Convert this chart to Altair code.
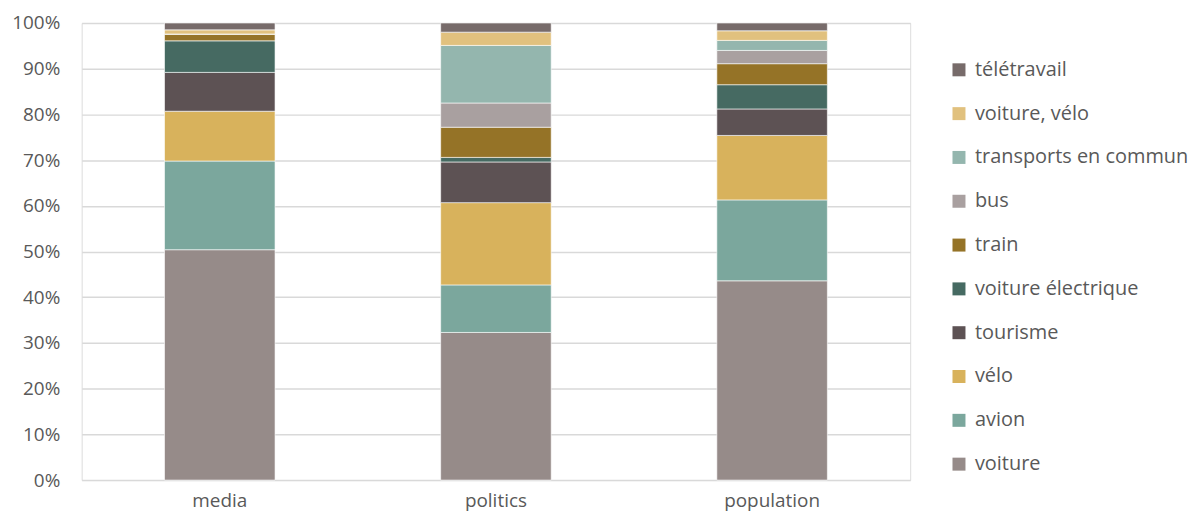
import altair as alt
import pandas as pd

groups = ["media", "politics", "population"]
modes = ["voiture", "avion", "vélo", "tourisme", "voiture électrique",
         "train", "bus", "transports en commun", "voiture, vélo", "télétravail"]
colors = ["#968B89", "#7BA79D", "#D8B25C", "#5D5254", "#466A62",
          "#957327", "#A9A0A0", "#94B6AE", "#E1C17E", "#776B6A"]
media = [50.4, 19.4, 10.9, 8.5, 6.9, 1.5, 0.0, 0.0, 0.9, 1.5]
politics = [32.3, 10.4, 18.0, 8.9, 1.0, 6.6, 5.3, 12.6, 2.9, 2.0]
population = [43.6, 17.7, 14.1, 5.8, 5.3, 4.6, 2.9, 2.2, 2.1, 1.7]

rows = []
for g, vals in zip(groups, [media, politics, population]):
    for i, (m, v) in enumerate(zip(modes, vals)):
        rows.append({"group": g, "mode": m, "value": v, "order": i})
df = pd.DataFrame(rows)

FONT = "Open Sans"
chart = alt.Chart(df).mark_bar(size=111, stroke="white", strokeWidth=0.6).encode(
    x=alt.X("group:N", sort=groups, title=None,
            scale=alt.Scale(paddingInner=0, paddingOuter=0),
            axis=alt.Axis(labelAngle=0, ticks=False, domain=False,
                          labelFontSize=19, labelColor="#595959",
                          labelFont=FONT, labelPadding=12)),
    y=alt.Y("value:Q", stack="normalize", title=None,
            scale=alt.Scale(domain=[0, 1]),
            axis=alt.Axis(format=".0%", values=[i / 10 for i in range(11)],
                          labelOverlap=False,
                          ticks=False, domain=False, gridColor="#D9D9D9",
                          gridWidth=1.5, labelFontSize=19, labelColor="#595959",
                          labelFont=FONT, labelPadding=22)),
    color=alt.Color("mode:N",
                    scale=alt.Scale(domain=modes[::-1], range=colors[::-1]),
                    legend=alt.Legend(title=None, orient="none", legendX=871, legendY=37,
                                      symbolType="square", symbolSize=170,
                                      symbolStrokeWidth=0, labelFontSize=20,
                                      labelColor="#595959", labelFont=FONT,
                                      rowPadding=24, labelOffset=6, labelLimit=300)),
    order=alt.Order("order:Q", sort="ascending"),
).properties(width=832, height=459).configure_view(stroke=None).configure(
    background="white", padding={"left": 3, "top": 5, "right": 2, "bottom": 5})

chart.save("out.html", embed_options={"renderer": "svg", "actions": False})
